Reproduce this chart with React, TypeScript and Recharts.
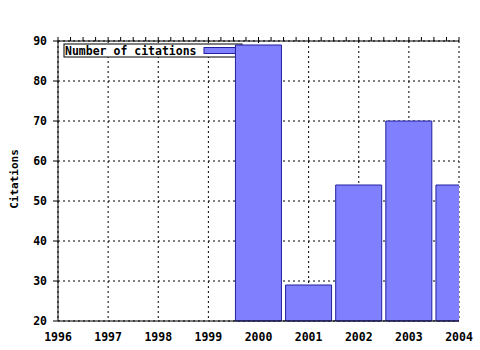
import { BarChart, Bar, XAxis, YAxis, CartesianGrid } from 'recharts';

const years = [1996, 1997, 1998, 1999, 2000, 2001, 2002, 2003, 2004];
const quarterTicks = [
  1996, 1996.25, 1996.5, 1996.75, 1997, 1997.25, 1997.5, 1997.75, 1998, 1998.25, 1998.5, 1998.75,
  1999, 1999.25, 1999.5, 1999.75, 2000, 2000.25, 2000.5, 2000.75, 2001, 2001.25, 2001.5, 2001.75,
  2002, 2002.25, 2002.5, 2002.75, 2003, 2003.25, 2003.5, 2003.75, 2004,
];
const yTicks = [20, 30, 40, 50, 60, 70, 80, 90];
const citationYears = [2000, 2001, 2002, 2003, 2004];
const citations = [89, 29, 54, 70, 54];

const data = citationYears.map((year, i) => ({ year, citations: citations[i] }));

const font = { fontFamily: '"DejaVu Sans Mono", monospace', fontWeight: 'bold' as const, fontSize: 11.5, fill: '#000' };

function YLabel({ viewBox }: { viewBox?: { x: number; y: number; width: number; height: number } }) {
  if (!viewBox) return null;
  const x = viewBox.x + 18;
  const y = viewBox.y + viewBox.height / 2 - 2;
  return (
    <text x={x} y={y} textAnchor="middle" transform={`rotate(-90 ${x} ${y})`} style={{ ...font, fontSize: 11 }}>
      Citations
    </text>
  );
}

export default function App() {
  return (
    <div style={{ position: 'absolute', left: 0, top: 0, width: 480, height: 350, background: '#fff' }}>
      <BarChart width={480} height={350} data={data} margin={{ top: 37, right: 21, bottom: 0, left: 0 }}>
        <CartesianGrid stroke="#000" strokeDasharray="2 3" />
        <g>
          <rect x={64} y={44} width={178} height={13} fill="#fff" stroke="#000" />
          <text x={65} y={54.5} style={font}>Number of citations</text>
          <rect x={204} y={47.5} width={38} height={6} fill="#8080ff" stroke="#2020a0" />
        </g>
        <Bar dataKey="citations" fill="#8080ff" stroke="#2020a0" barSize={46} isAnimationActive={false} />
        <XAxis
          xAxisId="top"
          orientation="top"
          dataKey="year"
          type="number"
          domain={[1996, 2004]}
          ticks={quarterTicks}
          height={4}
          tickSize={4}
          tickFormatter={() => ''}
          axisLine={{ stroke: '#000' }}
          tickLine={{ stroke: '#000' }}
        />
        <XAxis
          dataKey="year"
          type="number"
          domain={[1996, 2004]}
          ticks={years}
          allowDataOverflow
          height={29}
          tickSize={0}
          tickMargin={12}
          tickLine={false}
          axisLine={{ stroke: '#000' }}
          tick={font}
        />
        <XAxis
          xAxisId="minor"
          orientation="bottom"
          mirror
          dataKey="year"
          type="number"
          domain={[1996, 2004]}
          ticks={quarterTicks}
          height={0}
          tickSize={3}
          tickFormatter={() => ''}
          axisLine={false}
          tickLine={{ stroke: '#000' }}
        />
        <YAxis
          domain={[20, 90]}
          ticks={yTicks}
          width={58}
          tickSize={5}
          tickMargin={6}
          axisLine={{ stroke: '#000' }}
          tickLine={{ stroke: '#000' }}
          tick={font}
          label={<YLabel />}
        />
        <YAxis yAxisId="r" orientation="right" domain={[20, 90]} width={0} tick={false} tickLine={false} axisLine={{ stroke: '#000' }} />
      </BarChart>
    </div>
  );
}
